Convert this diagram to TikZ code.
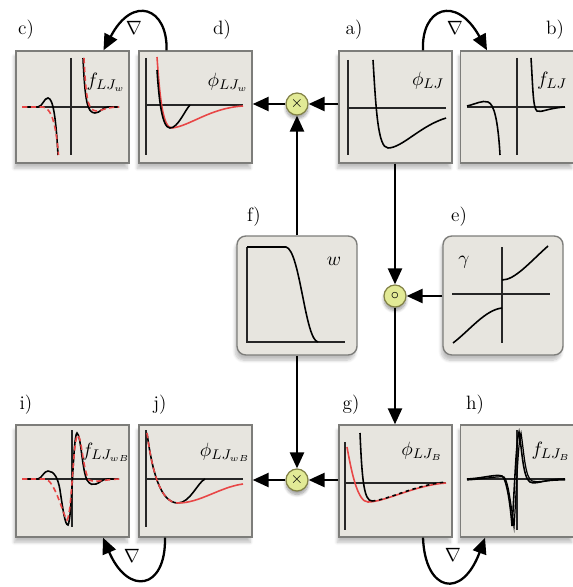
\documentclass[tikz,border=0pt]{standalone}
\usepackage{amsmath}
\usepackage{xcolor}
\usepackage{tikz}
\usetikzlibrary{arrows.meta,positioning,calc,shadows.blur}

\definecolor{boxfill}{RGB}{231,229,223}
\definecolor{boxline}{RGB}{125,125,122}
\definecolor{opfill}{RGB}{226,234,150}
\definecolor{opline}{RGB}{130,130,70}
\definecolor{curvered}{RGB}{232,70,70}

\begin{document}
\begin{tikzpicture}[x=0.02cm, y=-0.02cm,
    plotbox/.style={draw=boxline, line width=0.8pt, fill=boxfill, minimum width=2.26cm,
                    minimum height=2.24cm, inner sep=0pt,
                    blur shadow={shadow xshift=-1pt, shadow yshift=-3pt, shadow blur steps=8, shadow opacity=25}},
    roundbox/.style={plotbox, rounded corners=5pt, minimum width=2.4cm, minimum height=2.38cm},
    opnode/.style={circle, draw=opline, line width=0.7pt, fill=opfill, minimum size=0.44cm,
                   inner sep=0pt, font=\small,
                   blur shadow={shadow xshift=0pt, shadow yshift=-2pt, shadow blur steps=8, shadow opacity=40}},
    tag/.style={font=\fontsize{11}{13}\selectfont},
    fname/.style={font=\fontsize{11}{13}\selectfont},
    axis/.style={line width=1pt, black!85},
    curve/.style={line width=0.9pt, black},
    smooth/.style={line width=0.9pt, curvered},
    flow/.style={-{Triangle[length=3.2mm, width=2.8mm]}, line width=1.4pt},
    grad/.style={-{Triangle[length=3.2mm, width=2.8mm]}, line width=1.3pt}
]
\useasboundingbox (0,0) rectangle (573,587);

%% Plot boxes
\node[plotbox] (c) at (72.5,107) {};
\node[plotbox] (d) at (195.5,107) {};
\node[plotbox] (a) at (395.5,107) {};
\node[plotbox] (b) at (517,107) {};
\node[roundbox] (f) at (297,295.5) {};
\node[roundbox] (e) at (503,295.5) {};
\node[plotbox] (i) at (72.5,481) {};
\node[plotbox] (j) at (195.5,481) {};
\node[plotbox] (g) at (395.5,481) {};
\node[plotbox] (h) at (517,481) {};

%% Operators
\node[opnode] (mulU) at (297,104) {$\times$};
\node[opnode] (comp) at (395,296) {$\circ$};
\node[opnode] (mulL) at (297,480) {$\times$};

%% Panel tags
\node[tag] at (26,30) {c)};
\node[tag] at (222,30) {d)};
\node[tag] at (354,30) {a)};
\node[tag] at (555,30) {b)};
\node[tag] at (254,217) {f)};
\node[tag] at (459,217) {e)};
\node[tag] at (26,405) {i)};
\node[tag] at (160,405) {j)};
\node[tag] at (351,405) {g)};
\node[tag] at (475,405) {h)};

%% Function names
\node[fname] at (428,81) {$\phi_{LJ}$};
\node[fname] at (552,81) {$f_{LJ}$};
\node[fname] at (106,82) {$f_{LJ_w}$};
\node[fname] at (228,82) {$\phi_{LJ_w}$};
\node[fname] at (464,262) {$\gamma$};
\node[fname] at (334,261) {$w$};
\node[fname] at (106,452) {$f_{LJ_{wB}}$};
\node[fname] at (225,452) {$\phi_{LJ_{wB}}$};
\node[fname] at (422,451) {$\phi_{LJ_B}$};
\node[fname] at (551,451) {$f_{LJ_B}$};

%% Main flow
\draw[flow] (a.west |- mulU) -- (mulU);
\draw[flow] (mulU) -- (d.east |- mulU);
\draw[flow] (f.north) -- (mulU);
\draw[flow] (f.south) -- (mulL);
\draw[flow] (comp |- a.south) -- (comp);
\draw[flow] (e.west |- comp) -- (comp);
\draw[flow] (comp) -- (comp |- g.north);
\draw[flow] (g.west |- mulL) -- (mulL);
\draw[flow] (mulL) -- (j.east |- mulL);

%% Gradient arrows
\draw[grad] ([xshift=-0.58cm]d.north) .. controls (168,8) and (133,-6) .. ([xshift=0.62cm]c.north);
\node[tag] at (134,28) {$\nabla$};
\draw[grad] ([xshift=0.55cm]a.north) .. controls (421,8) and (456,-6) .. ([xshift=-0.6cm]b.north);
\node[tag] at (455,28) {$\nabla$};
\draw[grad] ([xshift=-0.61cm]j.south) .. controls (166,590) and (128,596) .. ([xshift=0.61cm]i.south);
\node[tag] at (132,556) {$\nabla$};
\draw[grad] ([xshift=0.55cm]g.south) .. controls (425,592) and (462,600) .. ([xshift=-0.64cm]h.south);
\node[tag] at (453,555) {$\nabla$};

%% a) phi_LJ
\draw[axis] (348,60) -- (348,155);
\draw[axis] (348,108) -- (446,108);
\draw[curve] (373,60) .. controls (376,110) and (378,148) .. (388,148) .. controls (402,148) and (420,126) .. (446,118);

%% b) f_LJ
\draw[axis] (517,58) -- (517,155);
\draw[axis] (467,107) -- (565,107);
\draw[curve] (467,106) .. controls (476,104) and (482,100) .. (488,102) .. controls (494,104) and (498,120) .. (500,155);
\draw[curve] (531,58) .. controls (533,90) and (533,108) .. (537,111) .. controls (541,113) and (548,108) .. (565,107);

%% c) f_LJw
\draw[axis] (71,58) -- (71,155);
\draw[axis] (22,107) -- (119,107);
\draw[curve] (22,107) -- (38,107) .. controls (43,106) and (44,98) .. (48,98) .. controls (53,98) and (56,118) .. (58,155);
\draw[curve] (83,58) .. controls (85,100) and (87,113) .. (95,113) .. controls (100,113) and (103,107) .. (108,107) -- (119,107);
\draw[smooth, dash pattern=on 3pt off 2pt] (22,107) -- (40,107) .. controls (48,106) and (55,112) .. (58.5,155);
\draw[smooth, dash pattern=on 3pt off 2pt] (84,58) .. controls (86,100) and (88,110) .. (96,111) .. controls (102,111) and (106,107) .. (119,107);

%% d) phi_LJw
\draw[axis] (146,58) -- (146,155);
\draw[axis] (146,105) -- (243,105);
\draw[smooth] (157,57) .. controls (160,100) and (163,128) .. (172,128) .. controls (190,126) and (210,108) .. (243,106);
\draw[curve] (157,70) .. controls (159,100) and (162,128) .. (170,128) .. controls (178,128) and (185,110) .. (190,105);

%% e) gamma
\draw[axis] (452,294) -- (550,294);
\draw[axis] (502,247) -- (502,343);
\draw[curve] (502,280) .. controls (515,280) and (530,262) .. (548,246);
\draw[curve] (453,343) .. controls (470,330) and (485,310) .. (502,308);

%% f) w
\draw[axis] (247,247) -- (247,342) -- (345,342);
\draw[curve] (247,247) -- (286,247) .. controls (300,250) and (305,340) .. (318,342);

%% g) phi_LJB
\draw[axis] (345,442) -- (345,530);
\draw[axis] (345,483) -- (446,483);
\draw[smooth] (347,447) .. controls (352,475) and (358,502) .. (368,502) .. controls (385,502) and (415,485) .. (446,483);
\draw[curve] (360,433) .. controls (362,480) and (364,501) .. (372,501);
\draw[curve, dash pattern=on 2pt off 2pt] (372,501) .. controls (388,500) and (415,485) .. (446,482);

%% h) f_LJB
\draw[axis] (517,430) -- (517,530);
\draw[axis] (467,479) -- (565,479);
\draw[curve] (467,479) .. controls (485,478) and (495,474) .. (502,476) .. controls (506,478) and (510,500) .. (512,526) .. controls (514,500) and (516,440) .. (519,432) .. controls (522,450) and (523,478) .. (530,482) .. controls (536,485) and (545,479) .. (565,479);
\draw[curve, line width=0.7pt] (467,480) .. controls (485,479) and (497,476) .. (504,477) .. controls (508,480) and (511,505) .. (514,527) .. controls (516,500) and (518,440) .. (521,433) .. controls (524,452) and (525,478) .. (532,481) .. controls (538,483) and (545,480) .. (565,480);

%% i) f_LJwB
\draw[axis] (72,430) -- (72,527);
\draw[axis] (22,479) -- (119,479);
\draw[curve] (22,479) -- (38,479) .. controls (42,478) and (44,471) .. (48,471) .. controls (54,471) and (58,478) .. (60,490) .. controls (63,510) and (65,525) .. (68,525) .. controls (72,520) and (73,435) .. (77,433) .. controls (81,435) and (82,470) .. (87,480) .. controls (90,485) and (93,485) .. (96,484) .. controls (100,483) and (102,479) .. (108,479) -- (119,479);
\draw[smooth, dash pattern=on 3pt off 2pt] (22,479) -- (45,479) .. controls (55,480) and (63,515) .. (67,520) .. controls (72,515) and (73,435) .. (78,435) .. controls (82,440) and (83,470) .. (89,480) .. controls (95,483) and (100,480) .. (119,479);

%% j) phi_LJwB
\draw[axis] (146,430) -- (146,527);
\draw[axis] (146,479) -- (243,479);
\draw[curve] (147,433) .. controls (152,470) and (160,503) .. (178,503) .. controls (190,503) and (198,482) .. (205,479);
\draw[smooth, dash pattern=on 3pt off 2pt] (147,433) .. controls (152,470) and (160,503) .. (178,503);
\draw[smooth] (178,503) .. controls (200,503) and (220,487) .. (243,484);

\end{tikzpicture}
\end{document}
